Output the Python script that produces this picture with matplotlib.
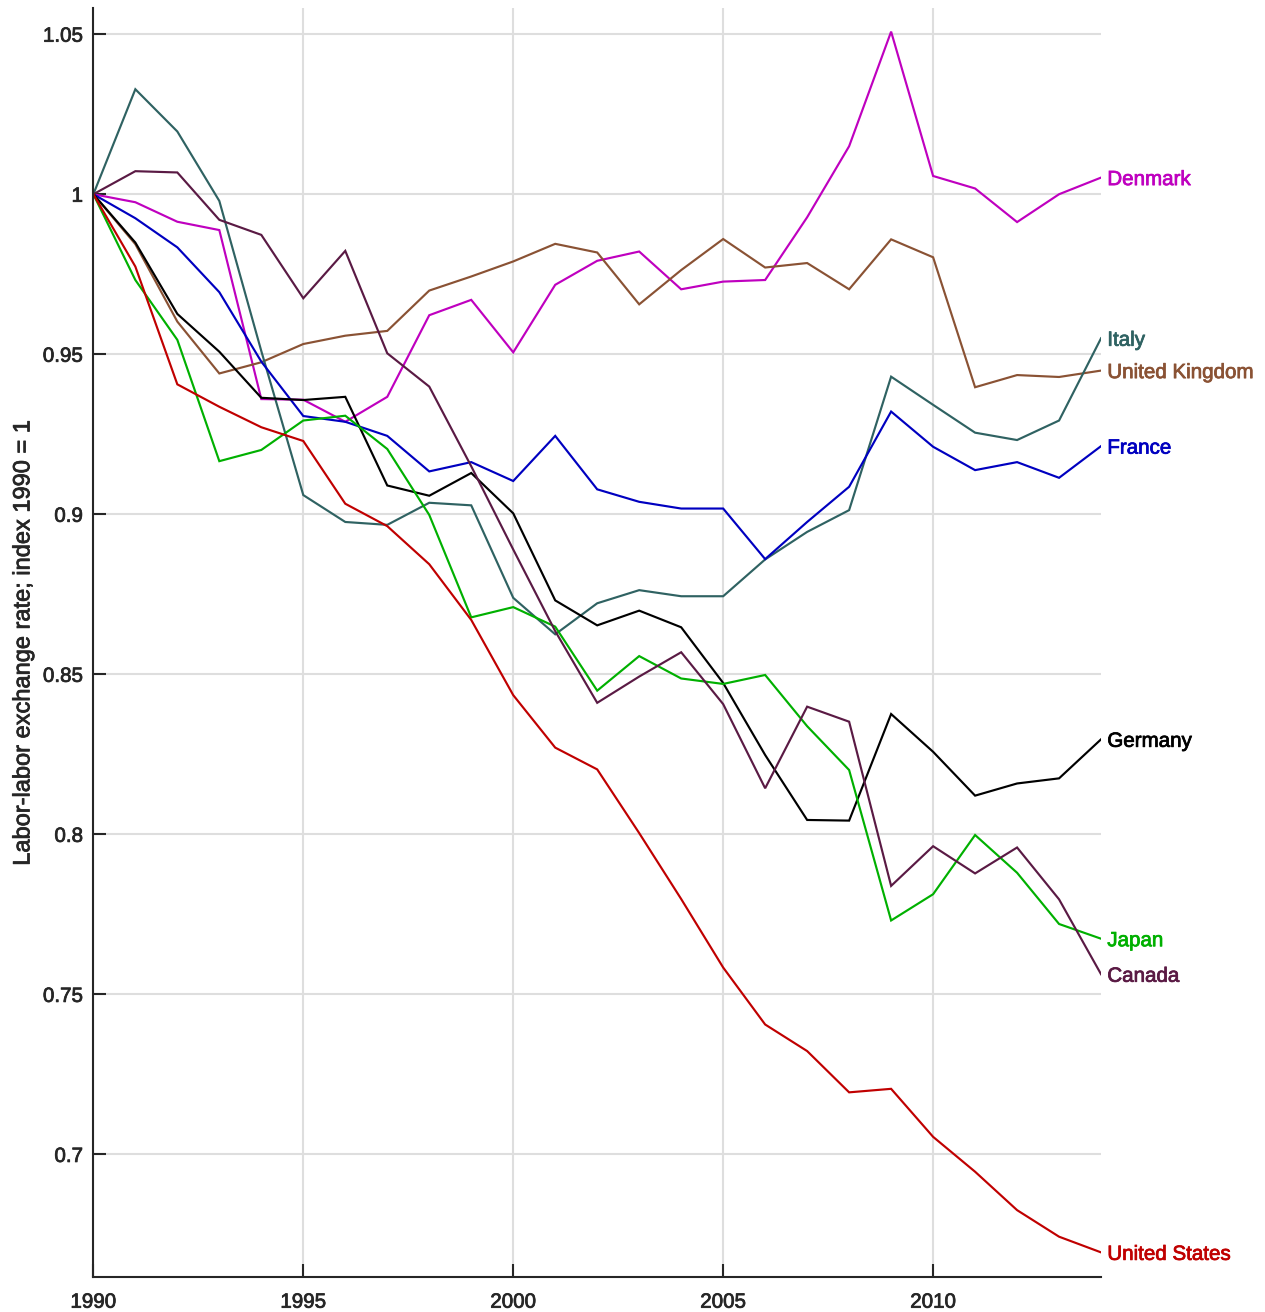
import matplotlib
matplotlib.use("Agg")
import matplotlib.pyplot as plt
import matplotlib.patheffects as pe

plt.rcParams['font.family'] = ['Liberation Sans', 'DejaVu Sans']

years = list(range(1990, 2015))

denmark = [1.0, 0.9975, 0.9914, 0.9888, 0.936, 0.9358, 0.9289, 0.9367, 0.9622, 0.967,
           0.9506, 0.9717, 0.9792, 0.9821, 0.9703, 0.9727, 0.9732, 0.9928, 1.0150, 1.0508,
           1.0057, 1.0018, 0.9913, 1.0, 1.0052]
uk = [1.0, 0.9844, 0.9602, 0.944, 0.9475, 0.9532, 0.9558, 0.9573, 0.9699, 0.9743,
      0.979, 0.9845, 0.9818, 0.9656, 0.9763, 0.986, 0.9771, 0.9785, 0.9703, 0.9859,
      0.9803, 0.9397, 0.9435, 0.9429, 0.9449]
italy = [1.0, 1.0328, 1.0196, 0.9979, 0.951, 0.906, 0.8976, 0.8967, 0.9036, 0.9028,
         0.8739, 0.8625, 0.8722, 0.8763, 0.8744, 0.8744, 0.8859, 0.8945, 0.9013, 0.943,
         0.9342, 0.9255, 0.9232, 0.9293, 0.955]
france = [1.0, 0.9925, 0.9834, 0.9694, 0.9477, 0.9307, 0.9289, 0.9245, 0.9134, 0.9163,
          0.9104, 0.9245, 0.9078, 0.9039, 0.9018, 0.9018, 0.886, 0.8976, 0.9086, 0.9321,
          0.9211, 0.9138, 0.9163, 0.9114, 0.9213]
germany = [1.0, 0.9849, 0.9626, 0.9508, 0.9364, 0.9357, 0.9367, 0.909, 0.9058, 0.9129,
           0.9003, 0.8731, 0.8653, 0.8699, 0.8647, 0.8473, 0.8248, 0.8045, 0.8043, 0.8376,
           0.8258, 0.8121, 0.8159, 0.8175, 0.8297]
japan = [1.0, 0.9732, 0.9545, 0.9166, 0.9201, 0.9293, 0.9308, 0.9204, 0.8998, 0.8678,
         0.871, 0.8649, 0.8449, 0.8557, 0.8487, 0.847, 0.8498, 0.8338, 0.8201, 0.7731,
         0.7813, 0.7998, 0.788, 0.772, 0.7674]
canada = [1.0, 1.0072, 1.0068, 0.992, 0.9873, 0.9675, 0.9823, 0.9503, 0.9399, 0.915,
          0.889, 0.8635, 0.8411, 0.8493, 0.8569, 0.8407, 0.8144, 0.8399, 0.8352, 0.7839,
          0.7963, 0.7878, 0.7959, 0.7797, 0.7563]
us = [1.0, 0.9774, 0.9406, 0.9336, 0.9272, 0.9229, 0.9033, 0.8963, 0.8844, 0.867,
      0.8435, 0.8271, 0.8203, 0.8004, 0.7798, 0.7584, 0.7406, 0.7323, 0.7194, 0.7205,
      0.7055, 0.6946, 0.6826, 0.6743, 0.6694]

names = ["Denmark", "United Kingdom", "Italy", "France", "Germany", "Japan", "Canada", "United States"]
series = [denmark, uk, italy, france, germany, japan, canada, us]
colors = ["#BF00BF", "#8A5234", "#2F6262", "#0000C0", "#000000", "#00B000", "#5A1A44", "#C00000"]

xticks = [1990, 1995, 2000, 2005, 2010]
xticklabels = ["1990", "1995", "2000", "2005", "2010"]
yticks = [0.7, 0.75, 0.8, 0.85, 0.9, 0.95, 1.0, 1.05]
yticklabels = ["0.7", "0.75", "0.8", "0.85", "0.9", "0.95", "1", "1.05"]
ylabel = "Labor-labor exchange rate; index 1990 = 1"


def heavy(color):
    return [pe.withStroke(linewidth=0.55, foreground=color)]


fig = plt.figure(figsize=(12.65, 13.12), dpi=100)
ax = fig.add_axes([0.0738, 0.0269, 0.7966, 0.9668])

for name, vals, c in zip(names, series, colors):
    ax.plot(years, vals, color=c, lw=1.55, solid_joinstyle='miter')
    ax.annotate(name, xy=(years[-1], vals[-1]), xytext=(4.5, 0), textcoords='offset points',
                va='center_baseline', ha='left', color=c, fontsize=14.8, annotation_clip=False,
                path_effects=heavy(c))

ax.set_xlim(1990, 2014)
ax.set_ylim(0.6618, 1.0581)
ax.set_xticks(xticks)
ax.set_xticklabels(xticklabels)
ax.set_yticks(yticks)
ax.set_yticklabels(yticklabels)

ax.grid(True, color="#DEDEDE", lw=1.5)
ax.set_axisbelow(True)
for s in ["top", "right"]:
    ax.spines[s].set_visible(False)
for s in ["left", "bottom"]:
    ax.spines[s].set_color("#262626")
    ax.spines[s].set_linewidth(1.5)

ax.tick_params(axis='both', direction='in', length=9.5, width=1.5, color="#262626",
               labelcolor="#262626", labelsize=14.8)
ax.tick_params(axis='x', pad=11.5)
ax.tick_params(axis='y', pad=7.5)
for lab in ax.get_xticklabels() + ax.get_yticklabels():
    lab.set_path_effects(heavy("#262626"))

ax.set_ylabel(ylabel, fontsize=17, color="#262626", path_effects=heavy("#262626"))
ax.yaxis.set_label_coords(-0.0585, 0.5)

fig.savefig("out.png", dpi=100)
